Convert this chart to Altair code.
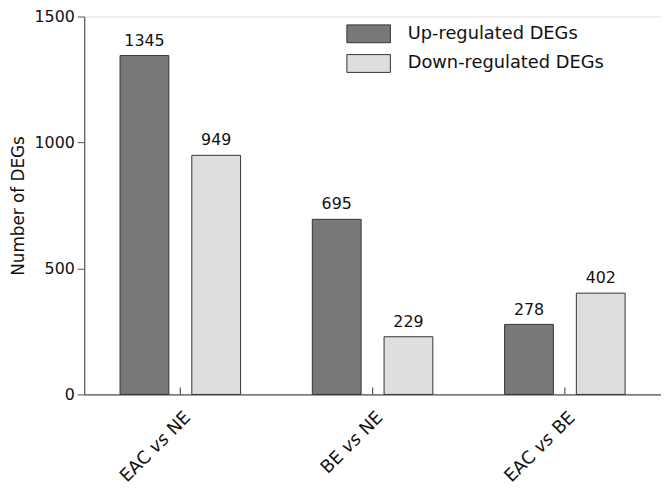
import altair as alt
import pandas as pd

categories = ["EAC vs NE", "BE vs NE", "EAC vs BE"]
first_words = ["EAC", "BE", "EAC"]
last_words = ["NE", "NE", "BE"]
series = ["Up-regulated DEGs", "Down-regulated DEGs"]
up_values = [1345, 695, 278]
down_values = [949, 229, 402]
y_ticks = [0, 500, 1000, 1500]

rows = []
for c, u, d in zip(categories, up_values, down_values):
    rows.append({"category": c, "series": series[0], "value": u})
    rows.append({"category": c, "series": series[1], "value": d})
bars_df = pd.DataFrame(rows)
labels_df = pd.DataFrame({"category": categories, "first": first_words, "last": last_words})

FONT = "DejaVu Sans"
W, H = 583, 382

x_enc = alt.X("category:N", sort=categories,
              scale=alt.Scale(paddingInner=0, paddingOuter=0),
              axis=alt.Axis(labels=False, ticks=False, title=None, domainColor="#555555", domainWidth=1.2))
xo_enc = alt.XOffset("series:N", sort=series, scale=alt.Scale(paddingInner=0.32, paddingOuter=0.5))
y_scale = alt.Scale(domain=[0, 1500], nice=False)

bars = alt.Chart(bars_df).mark_bar(stroke="#333333", strokeWidth=1).encode(
    x=x_enc,
    xOffset=xo_enc,
    y=alt.Y("value:Q", scale=y_scale,
            axis=alt.Axis(values=y_ticks, format="d", title="Number of DEGs", grid=False, tickSize=7,
                          labelFontSize=16, titleFontSize=17, titleFontWeight="normal",
                          labelPadding=3, titlePadding=7, domainColor="#555555", tickColor="#555555",
                          domainWidth=1.2, labelColor="#111111", titleColor="#111111")),
    color=alt.Color("series:N", sort=series,
                    scale=alt.Scale(domain=series, range=["#787878", "#dedede"]),
                    legend=alt.Legend(title=None, orient="none", legendX=277, legendY=7,
                                      symbolType="M-2.2,-0.9H2.2V0.9H-2.2Z", symbolSize=400,
                                      symbolStrokeColor="#333333", symbolStrokeWidth=1,
                                      labelFontSize=18, labelOffset=29, rowPadding=7, labelLimit=0,
                                      labelColor="#111111", padding=0)),
)

values_text = alt.Chart(bars_df).mark_text(baseline="bottom", dy=-7, fontSize=16, color="#111111", font=FONT).encode(
    x=alt.X("category:N", sort=categories),
    xOffset=alt.XOffset("series:N", sort=series),
    y=alt.Y("value:Q", scale=y_scale),
    text=alt.Text("value:Q"),
)

lbl_y = alt.value(H + 16)
lbl_last = alt.Chart(labels_df).mark_text(angle=315, align="right", baseline="top", fontSize=18, dx=2,
                                          color="#111111", font=FONT).encode(
    x=alt.X("category:N", sort=categories), y=lbl_y, text="last:N")
lbl_vs = alt.Chart(labels_df).mark_text(angle=315, align="right", baseline="top", fontSize=18,
                                        fontStyle="italic", dx=-28.6, color="#111111", font=FONT).encode(
    x=alt.X("category:N", sort=categories), y=lbl_y, text=alt.value("vs"))
lbl_first = alt.Chart(labels_df).mark_text(angle=315, align="right", baseline="top", fontSize=18,
                                           dx=-54.2, color="#111111", font=FONT).encode(
    x=alt.X("category:N", sort=categories), y=lbl_y, text="first:N")

ticks = alt.Chart(labels_df).mark_rule(color="#555555", strokeWidth=1.2).encode(
    x=alt.X("category:N", sort=categories), y=alt.value(H), y2=alt.value(H - 7))

chart = alt.layer(bars, values_text, ticks, lbl_last, lbl_vs, lbl_first).properties(
    width=W, height=H,
    autosize=alt.AutoSizeParams(type="none"),
    padding={"left": 77, "top": 6, "right": 0, "bottom": 94},
).configure_view(stroke=None).configure(font=FONT)

chart.save("out.html", embed_options={"renderer": "svg", "actions": False})
